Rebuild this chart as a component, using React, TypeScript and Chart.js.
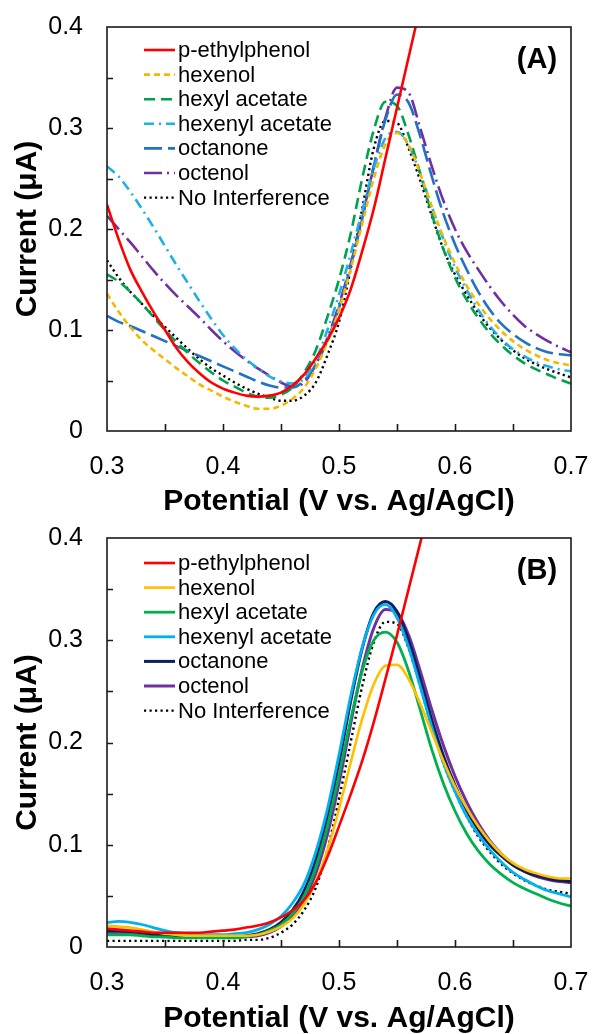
import React, { useEffect, useRef } from 'react';
import { Chart, registerables } from 'chart.js';
Chart.register(...registerables);

// ---------- data ----------
const POTENTIAL = [
  0.30, 0.31, 0.32, 0.33, 0.34, 0.35, 0.36, 0.37, 0.38, 0.39,
  0.40, 0.41, 0.42, 0.43, 0.44, 0.45, 0.46, 0.47, 0.48, 0.49,
  0.50, 0.51, 0.52, 0.53, 0.54, 0.55, 0.56, 0.57, 0.58, 0.59,
  0.60, 0.61, 0.62, 0.63, 0.64, 0.65, 0.66, 0.67, 0.68, 0.69, 0.70,
];
const POTENTIAL_PEP = [
  0.30, 0.31, 0.32, 0.33, 0.34, 0.35, 0.36, 0.37, 0.38, 0.39,
  0.40, 0.41, 0.42, 0.43, 0.44, 0.45, 0.46, 0.47, 0.48, 0.49,
  0.50, 0.51, 0.52, 0.53, 0.54, 0.55, 0.56, 0.57, 0.58,
];

const SERIES_NAMES = ['p-ethylphenol', 'hexenol', 'hexyl acetate', 'hexenyl acetate', 'octanone', 'octenol', 'No Interference'];

// Panel (A)
const A_PETHYLPHENOL = [0.224, 0.19, 0.16, 0.138, 0.118, 0.10, 0.082, 0.068, 0.057, 0.048, 0.042, 0.038, 0.035, 0.034, 0.035, 0.038, 0.045, 0.056, 0.072, 0.09, 0.112, 0.14, 0.178, 0.22, 0.27, 0.32, 0.37, 0.42, 0.47];
const A_HEXENOL = [0.136, 0.118, 0.103, 0.090, 0.080, 0.071, 0.062, 0.054, 0.046, 0.040, 0.034, 0.029, 0.025, 0.022, 0.022, 0.025, 0.032, 0.043, 0.062, 0.088, 0.120, 0.160, 0.205, 0.250, 0.284, 0.295, 0.283, 0.255, 0.222, 0.192, 0.166, 0.144, 0.126, 0.111, 0.099, 0.089, 0.081, 0.075, 0.070, 0.067, 0.065];
const A_HEXYL_ACETATE = [0.155, 0.148, 0.138, 0.126, 0.113, 0.100, 0.088, 0.077, 0.067, 0.058, 0.050, 0.044, 0.038, 0.034, 0.033, 0.036, 0.043, 0.058, 0.080, 0.113, 0.150, 0.195, 0.250, 0.298, 0.326, 0.322, 0.293, 0.255, 0.215, 0.180, 0.152, 0.130, 0.112, 0.097, 0.085, 0.075, 0.067, 0.061, 0.056, 0.051, 0.047];
const A_HEXENYL_ACETATE = [0.262, 0.252, 0.237, 0.220, 0.202, 0.183, 0.164, 0.146, 0.128, 0.111, 0.095, 0.082, 0.071, 0.062, 0.054, 0.049, 0.047, 0.052, 0.070, 0.100, 0.135, 0.175, 0.218, 0.260, 0.290, 0.296, 0.283, 0.255, 0.222, 0.190, 0.162, 0.140, 0.120, 0.104, 0.091, 0.081, 0.074, 0.068, 0.064, 0.061, 0.059];
const A_OCTANONE = [0.114, 0.108, 0.104, 0.099, 0.094, 0.089, 0.084, 0.079, 0.074, 0.069, 0.064, 0.059, 0.054, 0.049, 0.045, 0.043, 0.043, 0.050, 0.065, 0.090, 0.122, 0.163, 0.210, 0.262, 0.308, 0.333, 0.325, 0.292, 0.252, 0.215, 0.185, 0.160, 0.138, 0.120, 0.106, 0.096, 0.088, 0.082, 0.078, 0.076, 0.075];
const A_OCTENOL = [0.213, 0.200, 0.187, 0.173, 0.159, 0.146, 0.134, 0.123, 0.112, 0.100, 0.089, 0.079, 0.070, 0.062, 0.055, 0.048, 0.044, 0.048, 0.066, 0.092, 0.125, 0.165, 0.212, 0.262, 0.310, 0.340, 0.335, 0.300, 0.262, 0.228, 0.200, 0.178, 0.160, 0.143, 0.128, 0.115, 0.104, 0.096, 0.089, 0.083, 0.078];
const A_NO_INTERFERENCE = [0.169, 0.152, 0.138, 0.126, 0.114, 0.103, 0.092, 0.081, 0.071, 0.062, 0.055, 0.048, 0.042, 0.037, 0.033, 0.030, 0.030, 0.035, 0.048, 0.075, 0.108, 0.160, 0.220, 0.280, 0.307, 0.305, 0.280, 0.248, 0.213, 0.180, 0.155, 0.135, 0.117, 0.102, 0.090, 0.080, 0.072, 0.066, 0.061, 0.057, 0.053];

// Panel (B)
const B_PETHYLPHENOL = [0.018, 0.017, 0.016, 0.015, 0.014, 0.014, 0.014, 0.014, 0.014, 0.015, 0.016, 0.017, 0.019, 0.021, 0.024, 0.029, 0.036, 0.046, 0.063, 0.088, 0.118, 0.149, 0.182, 0.220, 0.262, 0.305, 0.350, 0.395, 0.44];
const B_HEXENOL = [0.021, 0.020, 0.019, 0.017, 0.015, 0.013, 0.012, 0.011, 0.011, 0.011, 0.011, 0.011, 0.011, 0.012, 0.015, 0.020, 0.028, 0.042, 0.064, 0.095, 0.135, 0.180, 0.223, 0.257, 0.275, 0.276, 0.262, 0.238, 0.210, 0.182, 0.157, 0.136, 0.118, 0.103, 0.091, 0.082, 0.076, 0.072, 0.069, 0.067, 0.067];
const B_HEXYL_ACETATE = [0.012, 0.012, 0.012, 0.011, 0.010, 0.010, 0.009, 0.009, 0.009, 0.009, 0.009, 0.009, 0.010, 0.012, 0.016, 0.022, 0.033, 0.050, 0.078, 0.118, 0.168, 0.222, 0.270, 0.300, 0.308, 0.298, 0.270, 0.232, 0.193, 0.160, 0.133, 0.111, 0.094, 0.081, 0.071, 0.063, 0.057, 0.052, 0.047, 0.043, 0.040];
const B_HEXENYL_ACETATE = [0.024, 0.025, 0.024, 0.022, 0.019, 0.016, 0.014, 0.013, 0.012, 0.012, 0.012, 0.013, 0.014, 0.017, 0.022, 0.030, 0.043, 0.062, 0.093, 0.135, 0.188, 0.245, 0.293, 0.325, 0.335, 0.322, 0.293, 0.255, 0.215, 0.180, 0.152, 0.128, 0.110, 0.095, 0.083, 0.073, 0.066, 0.060, 0.055, 0.052, 0.049];
const B_OCTANONE = [0.016, 0.016, 0.015, 0.014, 0.012, 0.011, 0.010, 0.010, 0.010, 0.010, 0.010, 0.010, 0.011, 0.013, 0.017, 0.024, 0.036, 0.055, 0.085, 0.128, 0.180, 0.240, 0.292, 0.327, 0.338, 0.328, 0.300, 0.262, 0.222, 0.187, 0.158, 0.134, 0.115, 0.100, 0.089, 0.080, 0.074, 0.070, 0.067, 0.065, 0.064];
const B_OCTENOL = [0.014, 0.014, 0.013, 0.012, 0.011, 0.010, 0.010, 0.010, 0.010, 0.010, 0.010, 0.010, 0.010, 0.011, 0.014, 0.020, 0.030, 0.046, 0.072, 0.110, 0.160, 0.218, 0.272, 0.312, 0.330, 0.327, 0.305, 0.270, 0.232, 0.197, 0.167, 0.142, 0.121, 0.104, 0.091, 0.081, 0.074, 0.069, 0.066, 0.064, 0.063];
const B_NO_INTERFERENCE = [0.006, 0.006, 0.006, 0.006, 0.006, 0.006, 0.006, 0.006, 0.006, 0.006, 0.006, 0.006, 0.007, 0.007, 0.009, 0.014, 0.022, 0.036, 0.058, 0.095, 0.145, 0.200, 0.255, 0.298, 0.318, 0.316, 0.292, 0.255, 0.215, 0.180, 0.152, 0.128, 0.108, 0.093, 0.081, 0.072, 0.065, 0.060, 0.056, 0.054, 0.052];

const X_MINOR_TICKS = [0.35, 0.4, 0.45, 0.5, 0.55, 0.6, 0.65];
const Y_MINOR_TICKS = [0.05, 0.1, 0.15, 0.2, 0.25, 0.3, 0.35];

// ---------- styling ----------
const FONT = "'Liberation Sans', Arial, Helvetica, sans-serif";

const toPoints = (xs: number[], ys: number[]) => ys.map((v, i) => ({ x: xs[i], y: v }));

const makeDs = (label: string, xs: number[], ys: number[], color: string, dash: number[], width = 2.6) => ({
  label,
  data: toPoints(xs, ys),
  borderColor: color,
  backgroundColor: color,
  borderWidth: width,
  borderDash: dash,
  pointRadius: 0,
  fill: false,
  cubicInterpolationMode: 'monotone' as const,
  clip: 0,
});

const DOT = [2.2, 3.3];

const datasetsA = () => [
  makeDs(SERIES_NAMES[0], POTENTIAL_PEP, A_PETHYLPHENOL, '#ff0000', []),
  makeDs(SERIES_NAMES[1], POTENTIAL, A_HEXENOL, '#f5b800', [6, 4]),
  makeDs(SERIES_NAMES[2], POTENTIAL, A_HEXYL_ACETATE, '#00a04f', [11, 6]),
  makeDs(SERIES_NAMES[3], POTENTIAL, A_HEXENYL_ACETATE, '#1eb1e6', [10, 5, 2, 5]),
  makeDs(SERIES_NAMES[4], POTENTIAL, A_OCTANONE, '#2271c3', [18, 6]),
  makeDs(SERIES_NAMES[5], POTENTIAL, A_OCTENOL, '#7030a0', [18, 5, 2, 5]),
  makeDs(SERIES_NAMES[6], POTENTIAL, A_NO_INTERFERENCE, '#000000', DOT, 2.4),
];

const datasetsB = () => [
  makeDs(SERIES_NAMES[0], POTENTIAL_PEP, B_PETHYLPHENOL, '#ff0000', []),
  makeDs(SERIES_NAMES[1], POTENTIAL, B_HEXENOL, '#ffc000', []),
  makeDs(SERIES_NAMES[2], POTENTIAL, B_HEXYL_ACETATE, '#00b050', [], 2.8),
  makeDs(SERIES_NAMES[3], POTENTIAL, B_HEXENYL_ACETATE, '#00b0f0', [], 2.8),
  makeDs(SERIES_NAMES[4], POTENTIAL, B_OCTANONE, '#0d1f5c', [], 3),
  makeDs(SERIES_NAMES[5], POTENTIAL, B_OCTENOL, '#7030a0', [], 3),
  makeDs(SERIES_NAMES[6], POTENTIAL, B_NO_INTERFERENCE, '#000000', DOT, 2.4),
];

const decorPlugin = {
  id: 'decor',
  afterDatasetsDraw(chart: any, _args: any, opts: any) {
    const { ctx, chartArea, scales } = chart;
    const { left, top, right, bottom } = chartArea;
    const xs = scales.x;
    const ys = scales.y;
    ctx.save();
    // frame
    ctx.setLineDash([]);
    ctx.strokeStyle = '#1a1a1a';
    ctx.lineWidth = 1.6;
    ctx.strokeRect(left, top, right - left, bottom - top);
    // inward tick marks
    ctx.beginPath();
    X_MINOR_TICKS.forEach((v) => {
      const px = Math.round(xs.getPixelForValue(v)) + 0.5;
      ctx.moveTo(px, bottom);
      ctx.lineTo(px, bottom - 7);
    });
    Y_MINOR_TICKS.forEach((v) => {
      const py = Math.round(ys.getPixelForValue(v)) + 0.5;
      ctx.moveTo(left, py);
      ctx.lineTo(left + 6, py);
    });
    ctx.stroke();

    // legend
    ctx.font = `22px ${FONT}`;
    ctx.textBaseline = 'middle';
    ctx.textAlign = 'left';
    chart.data.datasets.forEach((ds: any, i: number) => {
      const y = top + opts.legendTop + i * 24.6;
      ctx.save();
      ctx.strokeStyle = ds.borderColor;
      ctx.lineWidth = ds.borderWidth;
      ctx.setLineDash(ds.borderDash || []);
      ctx.beginPath();
      ctx.moveTo(left + 37, y);
      ctx.lineTo(left + 68, y);
      ctx.stroke();
      ctx.restore();
      ctx.fillStyle = '#000';
      ctx.fillText(ds.label, left + 71, y + 1);
    });

    // panel label
    ctx.font = `bold 29px ${FONT}`;
    ctx.textAlign = 'center';
    ctx.fillStyle = '#000';
    ctx.fillText(opts.label, right - 34, top + 33);
    ctx.restore();
  },
};

function Panel({ which }: { which: 'A' | 'B' }) {
  const ref = useRef<HTMLCanvasElement>(null);
  useEffect(() => {
    if (!ref.current) return;
    const topPad = which === 'A' ? 27 : 21;
    const xHeight = which === 'A' ? 86 : 87;
    const chart = new Chart(ref.current, {
      type: 'line',
      data: { datasets: (which === 'A' ? datasetsA() : datasetsB()) as any },
      options: {
        responsive: false,
        animation: false,
        events: [],
        layout: { padding: { left: 0, right: 21, top: topPad, bottom: 0 } },
        plugins: {
          legend: { display: false },
          tooltip: { enabled: false },
          decor: { label: `(${which})`, legendTop: which === 'A' ? 23 : 25 },
        } as any,
        scales: {
          x: {
            type: 'linear',
            min: 0.3,
            max: 0.7,
            grid: { display: false, drawTicks: false },
            border: { display: false },
            ticks: {
              stepSize: 0.1,
              padding: 21,
              color: '#000',
              maxRotation: 0,
              autoSkip: false,
              font: { family: FONT, size: 25 },
              callback: (v: any) => Number(v).toFixed(1),
            },
            title: {
              display: true,
              text: 'Potential (V vs. Ag/AgCl)',
              color: '#000',
              font: { family: FONT, size: 30, weight: 'bold', lineHeight: 1 },
              padding: { top: 0, bottom: 0 },
            },
            afterFit: (s: any) => {
              s.height = xHeight;
              s.paddingLeft = 0;
              s.paddingRight = 0;
            },
          },
          y: {
            type: 'linear',
            min: 0,
            max: 0.4,
            grid: { display: false, drawTicks: false },
            border: { display: false },
            ticks: {
              stepSize: 0.1,
              padding: 24,
              color: '#000',
              font: { family: FONT, size: 25 },
              callback: (v: any) => (Number(v) === 0 ? '0' : Number(v).toFixed(1)),
            },
            title: {
              display: true,
              text: 'Current (μA)',
              color: '#000',
              font: { family: FONT, size: 30, weight: 'bold', lineHeight: 1.2 },
              padding: { top: 10, bottom: 0 },
            },
            afterFit: (s: any) => {
              s.width = 107;
              s.paddingTop = 0;
              s.paddingBottom = 0;
            },
          },
        },
      } as any,
      plugins: [decorPlugin],
    });
    return () => chart.destroy();
  }, [which]);
  return <canvas ref={ref} width={592} height={517} style={{ display: 'block', width: 592, height: 517 }} />;
}

export default function App() {
  return (
    <div style={{ position: 'absolute', left: 0, top: 0, width: 592, height: 1034, background: '#fff' }}>
      <Panel which="A" />
      <Panel which="B" />
    </div>
  );
}
